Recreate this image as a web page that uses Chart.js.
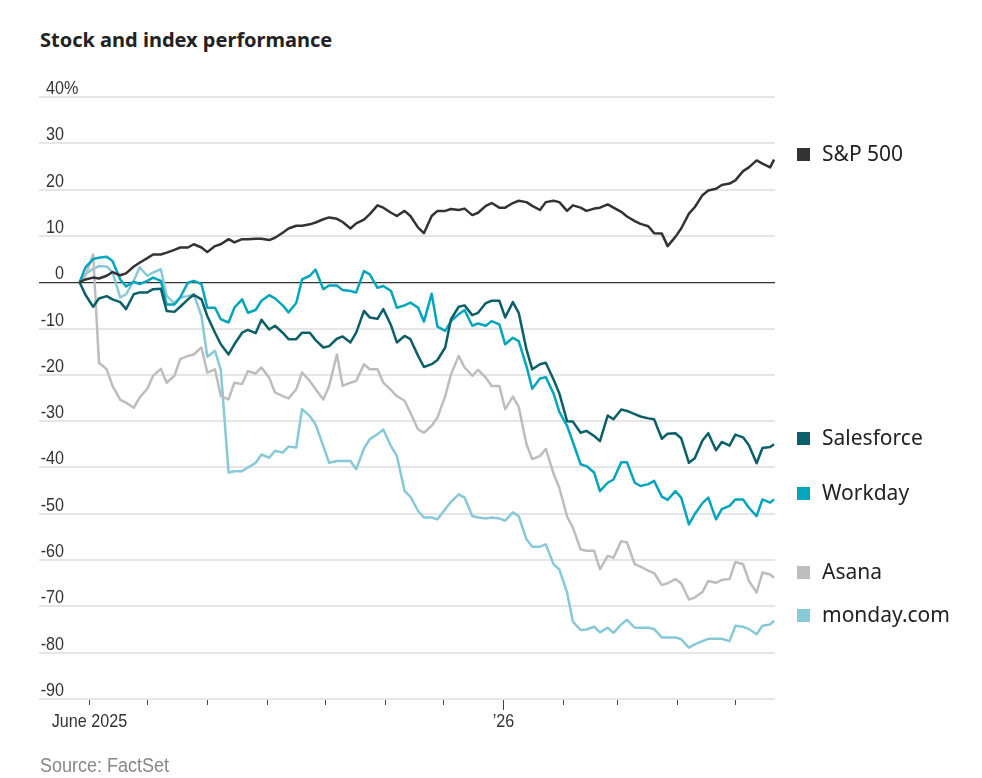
<!DOCTYPE html>
<html>
<head>
<meta charset="utf-8">
<title>Stock and index performance</title>
<script src="https://cdn.jsdelivr.net/npm/chart.js@4.4.1/dist/chart.umd.min.js"></script>
<style>
  body { margin: 0; background: #fff; }
  #wrap { position: relative; width: 982px; height: 778px; overflow: hidden; }
  #perfChart { position: absolute; left: 0; top: 0; }
  h1 {
    position: absolute; left: 40px; top: 28px; margin: 0;
    font: bold 20px/24px "Noto Sans", sans-serif; color: #222;
  }
  .source {
    position: absolute; left: 40px; top: 755px; margin: 0;
    font: 20px/20px "Liberation Sans", sans-serif; color: #888;
    transform: scaleX(0.9); transform-origin: left top;
  }
</style>
</head>
<body>
<div id="wrap">
  <h1>Stock and index performance</h1>
  <canvas id="perfChart" width="982" height="778"></canvas>
  <p class="source">Source: FactSet</p>
</div>
<script>
// trading days, counted in days from 1 June 2025 (two samples a week)
const tradeDays = [-5, -2, 2, 5, 9, 12, 16, 19, 23, 26, 30, 33, 37, 40, 44, 47, 51, 54, 58, 61,
  65, 68, 72, 75, 79, 82, 86, 89, 93, 96, 100, 103, 107, 110, 114, 117, 121, 124, 128, 131,
  135, 138, 142, 145, 149, 152, 156, 159, 163, 166, 170, 173, 177, 180, 184, 187, 191, 194, 198, 201,
  205, 208, 212, 215, 219, 222, 226, 229, 233, 236, 240, 243, 247, 250, 254, 257, 261, 264, 268, 271,
  275, 278, 282, 285, 289, 292, 296, 299, 303, 306, 310, 313, 317, 320, 324, 327, 331, 334, 338, 341,
  345, 348, 352, 354];

// % change since start
const spx = [0, 0.6, 1.0, 0.8, 1.4, 2.2, 1.5, 1.9, 3.4, 4.2,
  5.2, 6.0, 6.0, 6.4, 7.0, 7.5, 7.5, 8.2, 7.5, 6.5,
  7.8, 8.2, 9.3, 8.6, 9.3, 9.3, 9.4, 9.4, 9.1, 9.6,
  10.7, 11.6, 12.2, 12.2, 12.5, 12.9, 13.6, 14.0, 13.7, 13.0,
  11.6, 12.7, 13.5, 14.7, 16.6, 16.1, 15.0, 14.3, 15.4, 14.3,
  11.8, 10.6, 14.3, 15.4, 15.4, 15.8, 15.6, 15.9, 14.5, 15.0,
  16.5, 17.1, 16.1, 16.1, 17.1, 17.6, 17.3, 16.5, 15.6, 17.3,
  17.6, 17.3, 15.4, 16.6, 16.1, 15.4, 15.9, 16.1, 16.8, 16.1,
  15.2, 14.2, 13.2, 12.6, 12.1, 10.6, 10.5, 7.8, 9.8, 11.6,
  14.8, 16.2, 18.8, 19.8, 20.2, 21.0, 21.3, 22.0, 24.0, 24.8,
  26.3, 25.6, 24.8, 26.5];

const salesforce = [0, -2.7, -5.3, -3.5, -3.0, -3.7, -4.3, -5.8, -2.6, -2.2,
  -2.2, -1.5, -1.4, -6.2, -6.4, -5.3, -3.7, -2.7, -3.7, -7.3,
  -10.9, -13.4, -15.6, -13.4, -10.9, -10.3, -11.0, -8.1, -10.2, -9.4,
  -10.9, -12.3, -12.3, -10.9, -10.9, -12.5, -14.1, -13.8, -12.2, -11.7,
  -13.0, -10.9, -6.2, -7.6, -7.9, -5.8, -9.3, -13.0, -11.6, -12.3,
  -15.9, -18.3, -17.7, -16.8, -14.1, -8.0, -5.3, -5.0, -7.1, -6.6,
  -4.5, -4.0, -4.0, -7.6, -4.3, -6.6, -14.5, -18.8, -17.7, -17.4,
  -21.0, -24.0, -30.0, -30.1, -32.5, -32.1, -33.2, -34.3, -28.8, -29.6,
  -27.5, -27.8, -28.5, -29.0, -29.4, -29.6, -33.8, -32.7, -32.6, -33.7,
  -39.0, -38.0, -34.2, -32.6, -36.3, -34.5, -35.3, -32.9, -33.5, -35.2,
  -39.1, -35.8, -35.6, -35.0];

const workday = [0, 3.2, 5.0, 5.3, 5.5, 4.6, 0.6, -0.9, 0.1, -0.4,
  0.3, 1.0, 0.3, -4.8, -4.8, -3.3, -0.1, 0.3, -0.4, -5.5,
  -5.5, -8.0, -8.7, -5.5, -3.7, -6.6, -6.0, -4.0, -2.8, -3.5,
  -5.0, -6.5, -4.5, 0.6, 1.4, 2.7, -1.5, -0.7, -0.7, -1.7,
  -1.9, -2.2, 2.4, 1.7, -1.2, -0.8, -1.9, -5.5, -5.0, -4.4,
  -5.5, -8.5, -2.5, -9.6, -10.5, -8.4, -6.9, -6.0, -9.4, -8.9,
  -9.4, -8.4, -9.1, -13.4, -12.0, -12.7, -18.1, -23.0, -20.8, -20.5,
  -24.0, -28.0, -31.0, -34.5, -39.3, -39.7, -41.1, -45.1, -43.3, -42.6,
  -38.9, -38.9, -43.3, -44.0, -43.6, -42.9, -46.3, -47.0, -45.1, -46.5,
  -52.3, -50.1, -47.7, -46.5, -51.2, -49.0, -48.3, -46.9, -46.9, -48.7,
  -50.5, -46.9, -47.6, -46.9];

const asana = [0, 1.4, 6.0, -17.4, -18.8, -22.4, -25.4, -26.0, -27.1, -24.9,
  -23.0, -20.2, -18.7, -21.7, -20.2, -16.6, -15.9, -15.6, -14.1, -19.5,
  -18.8, -24.6, -25.3, -21.7, -22.0, -19.2, -19.7, -18.4, -20.6, -23.8,
  -24.6, -25.1, -23.1, -19.5, -21.3, -23.1, -25.3, -22.4, -15.6, -22.4,
  -21.7, -21.3, -17.7, -18.8, -18.8, -21.7, -23.3, -24.6, -25.6, -28.2,
  -31.8, -32.5, -31.0, -29.2, -24.6, -19.9, -15.9, -18.4, -20.2, -18.9,
  -20.6, -22.4, -22.4, -27.4, -24.7, -26.9, -35.0, -38.2, -37.5, -36.0,
  -41.3, -44.4, -50.6, -53.0, -57.7, -58.0, -58.0, -62.0, -59.1, -59.5,
  -55.9, -56.2, -60.9, -61.4, -62.3, -62.8, -65.4, -65.0, -64.1, -65.0,
  -68.5, -68.1, -66.9, -64.5, -64.9, -64.3, -64.1, -60.4, -60.9, -64.5,
  -67.0, -62.7, -63.1, -63.8];

const monday = [0, 1.7, 2.9, 3.5, 3.4, 2.2, -3.3, -2.6, 0.3, 3.2,
  1.4, 2.1, 2.8, -3.0, -4.5, -3.3, -3.0, -2.6, -7.3, -16.1,
  -14.8, -19.0, -41.1, -40.8, -40.8, -40.0, -39.0, -37.2, -37.9, -36.4,
  -36.8, -35.5, -35.7, -27.4, -28.9, -30.7, -35.4, -39.0, -38.6, -38.6,
  -38.6, -40.4, -35.9, -33.9, -32.8, -31.8, -35.4, -37.5, -45.1, -46.3,
  -49.4, -50.8, -50.8, -51.2, -49.0, -47.4, -45.8, -46.5, -50.5, -50.8,
  -51.0, -50.8, -51.0, -51.5, -49.7, -50.5, -55.5, -57.1, -57.1, -56.6,
  -60.9, -62.0, -67.0, -73.3, -75.1, -75.0, -74.4, -75.6, -74.6, -75.7,
  -73.9, -72.9, -74.6, -74.6, -74.6, -74.9, -76.7, -76.7, -76.7, -77.1,
  -78.9, -78.2, -77.5, -77.0, -77.0, -77.0, -77.5, -74.2, -74.4, -74.9,
  -76.0, -74.2, -73.9, -73.1];

const seriesNames = ['S&P 500', 'Salesforce', 'Workday', 'Asana', 'monday.com'];
const seriesColors = ['#333333', '#0b5f69', '#04a5bd', '#bdbdbd', '#88c9d7'];

const yTicks = [40, 30, 20, 10, 0, -10, -20, -30, -40, -50, -60, -70, -80, -90];
// month starts, in days from 1 June 2025
const monthTicks = [0, 30, 61, 92, 122, 153, 183, 214, 245, 273, 304, 334];
const monthLabels = { 0: 'June 2025', 214: '\u201926' };

function toPoints(values) {
    return values.map((v, i) => ({ x: tradeDays[i], y: v }));
}

// narrow axis type: regular sans squeezed horizontally
function narrowText(ctx, text, x, y, align) {
    const squeeze = 0.85;
    ctx.save();
    ctx.translate(x, y);
    ctx.scale(squeeze, 1);
    ctx.textAlign = align;
    ctx.fillText(text, 0, 0);
    ctx.restore();
}

// axis labels, month ticks and the end-of-line legend
const wsjOverlay = {
    id: 'wsjOverlay',
    afterDraw(chart) {
        const { ctx, scales: { x, y }, chartArea } = chart;
        ctx.save();

        // y labels sit just above their gridline
        ctx.font = '19px "Liberation Sans", sans-serif';
        ctx.fillStyle = '#333';
        ctx.textBaseline = 'alphabetic';
        yTicks.forEach(v => {
            const py = y.getPixelForValue(v) - 3;
            narrowText(ctx, String(v), 64, py, 'right');
            if (v === 40) narrowText(ctx, '%', 64, py, 'left');
        });

        // month ticks under the bottom gridline
        ctx.strokeStyle = '#444';
        ctx.lineWidth = 1;
        monthTicks.forEach(d => {
            const px = Math.round(x.getPixelForValue(d)) + 0.5;
            const len = d === 214 ? 10 : 5;
            ctx.beginPath();
            ctx.moveTo(px, chartArea.bottom + 1);
            ctx.lineTo(px, chartArea.bottom + 1 + len);
            ctx.stroke();
            if (monthLabels[d]) narrowText(ctx, monthLabels[d], px, 727, 'center');
        });

        // legend at the end of each line
        ctx.font = '21px "Noto Sans", sans-serif';
        ctx.textAlign = 'left';
        ctx.textBaseline = 'middle';
        chart.data.datasets.forEach((ds, i) => {
            const last = ds.data[ds.data.length - 1].y;
            const py = Math.round(y.getPixelForValue(last)) - 6;
            ctx.fillStyle = seriesColors[i];
            ctx.fillRect(797, py - 6, 13, 13);
            ctx.fillStyle = '#222';
            ctx.fillText(seriesNames[i], 822, py + 1);
        });

        ctx.restore();
    }
};

new Chart(document.getElementById('perfChart'), {
    type: 'line',
    data: {
        datasets: [spx, salesforce, workday, asana, monday].map((vals, i) => ({
            label: seriesNames[i],
            data: toPoints(vals),
            borderColor: seriesColors[i],
            borderWidth: 2.5,
            pointRadius: 0,
            tension: 0,
            borderJoinStyle: 'round'
        }))
    },
    plugins: [wsjOverlay],
    options: {
        responsive: false,
        devicePixelRatio: 1,
        animation: false,
        layout: { padding: { top: 97, left: 39, right: 207, bottom: 79 } },
        scales: {
            x: {
                type: 'linear',
                min: -26,
                max: 354.5,
                display: false
            },
            y: {
                min: -90,
                max: 40,
                ticks: { display: false, stepSize: 10 },
                border: { display: false },
                grid: {
                    drawTicks: false,
                    color: ctx => ctx.tick && ctx.tick.value === 0 ? '#333' : '#e6e6e6',
                    lineWidth: ctx => ctx.tick && ctx.tick.value === 0 ? 1.3 : 2
                }
            }
        },
        plugins: {
            legend: { display: false },
            tooltip: { enabled: false }
        }
    }
});
</script>
</body>
</html>
